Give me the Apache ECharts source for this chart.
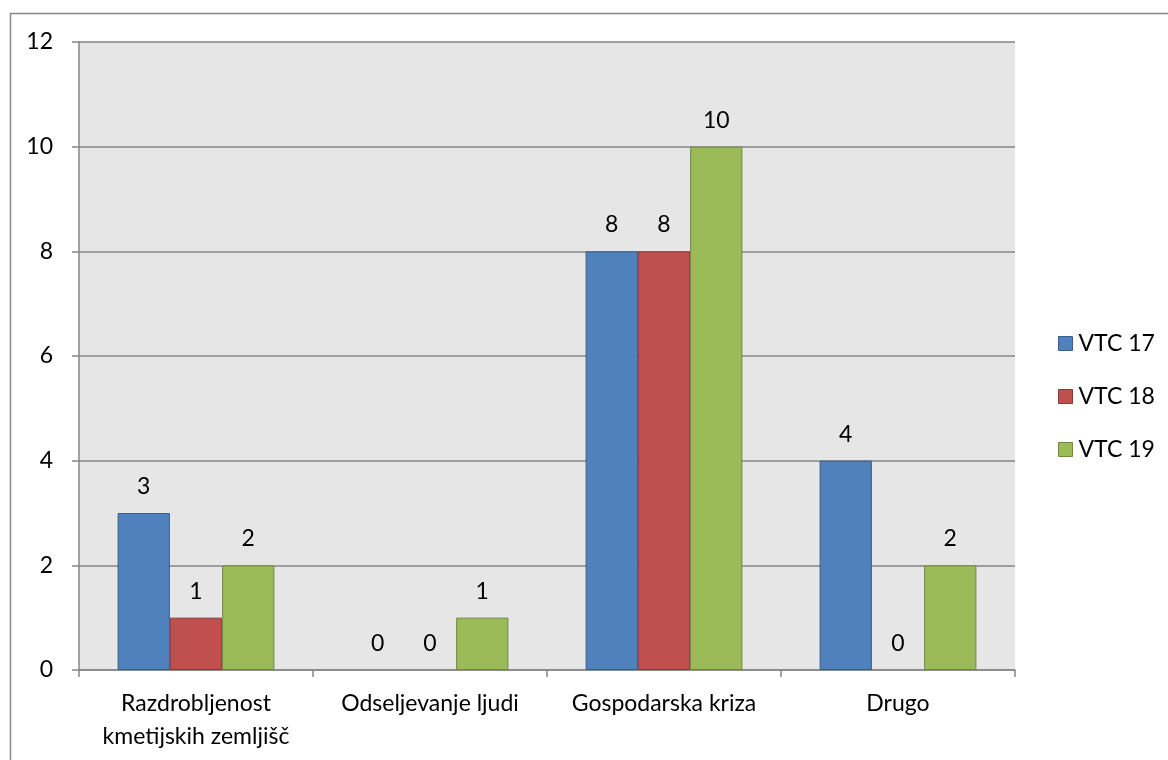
<!DOCTYPE html>
<html>
<head>
<meta charset="utf-8">
<script src="https://cdn.jsdelivr.net/npm/echarts@6/dist/echarts.min.js"></script>
<style>
html,body{margin:0;padding:0;background:#fff;}
#c{width:1168px;height:760px;}
</style>
</head>
<body>
<div id="c"></div>
<script>
const categories = ['Razdrobljenost\nkmetijskih zemljišč', 'Odseljevanje ljudi', 'Gospodarska kriza', 'Drugo'];
const seriesNames = ['VTC 17', 'VTC 18', 'VTC 19'];
const vtc17 = [3, 0, 8, 4];
const vtc18 = [1, 0, 8, 0];
const vtc19 = [2, 1, 10, 2];
const yTicks = [0, 2, 4, 6, 8, 10, 12];

const colors = ['#4F81BD', '#C0504D', '#9BBB59'];
const borders = ['#385D8A', '#8C3836', '#71893F'];
const FONT = 'Lato';
const FS = 23;

const chart = echarts.init(document.getElementById('c'), null, {renderer: 'canvas'});
const mk = (name, data, i) => ({
  name, type: 'bar',
  data: data.map(v => ({value: v, itemStyle: {borderWidth: v === 0 ? 0 : 1}})),
  barGap: '0%', barCategoryGap: '33%',
  itemStyle: {color: colors[i], borderColor: borders[i], borderWidth: 1},
  label: {show: true, position: 'top', distance: 15, color: '#000', fontFamily: FONT, fontSize: FS},
  animation: false
});
chart.setOption({
  animation: false,
  textStyle: {fontFamily: FONT},
  graphic: [{
    type: 'rect', z: -10, silent: true,
    shape: {x: 10.5, y: 13.5, width: 1300, height: 900},
    style: {fill: 'none', stroke: '#888', lineWidth: 1.5}
  }],
  grid: {left: 79, right: 153, top: 42, bottom: 90, show: true, backgroundColor: '#E6E6E6', borderWidth: 0},
  legend: {
    orient: 'vertical', left: 1053, top: 327,
    itemWidth: 14, itemHeight: 14, itemGap: 30,
    icon: 'rect',
    textStyle: {fontFamily: FONT, fontSize: FS, lineHeight: 22, color: '#000', padding: [0, 0, 0, 1]},
    data: seriesNames.map((n, i) => ({name: n, itemStyle: {borderColor: borders[i], borderWidth: 1}}))
  },
  xAxis: {
    type: 'category', data: categories,
    axisLine: {show: true, lineStyle: {color: '#868686', width: 1.5}},
    axisTick: {show: true, length: 7, lineStyle: {color: '#868686', width: 1.5}},
    axisLabel: {color: '#000', fontFamily: FONT, fontSize: FS, margin: 17, lineHeight: 33, interval: 0},
    splitLine: {show: false}
  },
  yAxis: {
    type: 'value', min: 0, max: 12, interval: 2,
    axisLine: {show: true, lineStyle: {color: '#868686', width: 1.5}},
    axisTick: {show: true, length: 7, lineStyle: {color: '#868686', width: 1.5}},
    axisLabel: {color: '#000', fontFamily: FONT, fontSize: FS, margin: 26,
      formatter: v => yTicks.includes(v) ? String(v) : ''},
    splitLine: {show: true, lineStyle: {color: '#868686', width: 1.5}}
  },
  series: [mk(seriesNames[0], vtc17, 0), mk(seriesNames[1], vtc18, 1), mk(seriesNames[2], vtc19, 2)]
});
</script>
</body>
</html>
